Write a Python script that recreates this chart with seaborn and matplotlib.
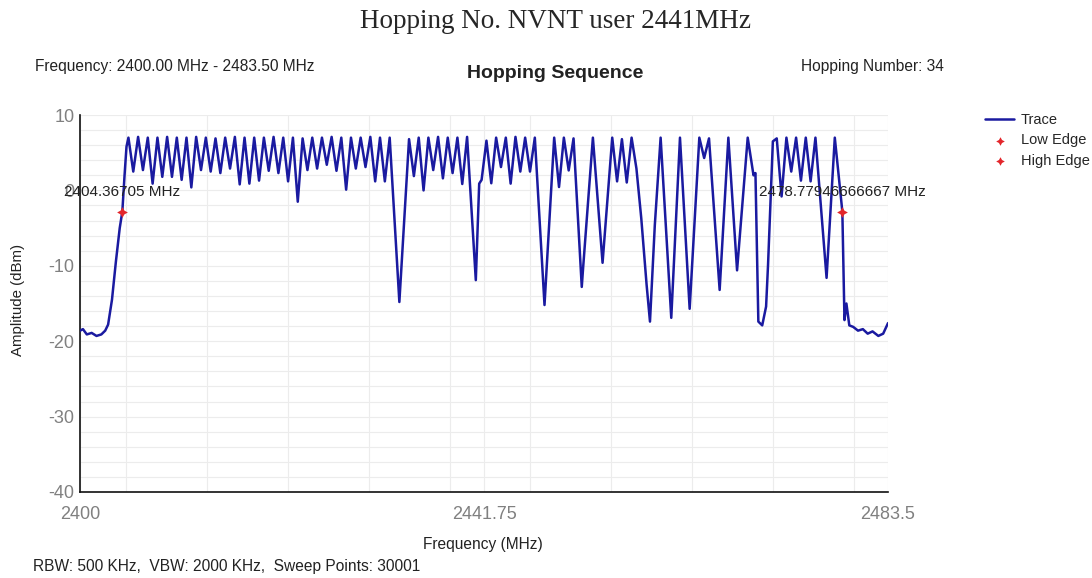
import pandas as pd
import seaborn as sns
import matplotlib.pyplot as plt
from matplotlib.ticker import FixedLocator, MultipleLocator

# noise floor and rising edge on the left side of the band
left_freq = [2400.0, 2400.3, 2400.7, 2401.2, 2401.7, 2402.2, 2402.6, 2402.9,
             2403.3, 2403.7, 2404.1, 2404.37, 2404.6, 2404.8]
left_amp = [-18.6, -18.4, -19.1, -18.9, -19.3, -19.1, -18.6, -17.8,
            -14.5, -9.5, -5.0, -2.8, 2.0, 5.8]

# channel peaks (max hold)
peak_freq = [2405, 2406, 2407, 2408, 2409, 2410, 2411, 2412, 2413, 2414,
             2415, 2416, 2417, 2418, 2419, 2420, 2421, 2422, 2423, 2424,
             2425, 2426, 2427, 2428, 2429, 2430, 2431, 2432,
             2434, 2435, 2436, 2437, 2438, 2439, 2440,
             2442, 2443, 2444, 2445, 2446, 2447,
             2449, 2450, 2451, 2453, 2455, 2456, 2457,
             2460, 2462, 2464, 2465, 2467, 2469,
             2472, 2473, 2474, 2475, 2476, 2478]
peak_amp = [7.0, 7.1, 7.0, 7.0, 7.1, 7.0, 7.0, 7.1, 7.0, 6.9,
            7.0, 7.1, 7.0, 7.0, 7.0, 7.1, 7.0, 7.0, 6.9, 7.0,
            7.0, 7.1, 7.0, 7.0, 7.0, 7.1, 7.0, 7.0,
            6.8, 7.0, 7.0, 7.1, 7.0, 7.0, 7.1,
            6.6, 7.0, 7.0, 7.1, 7.0, 7.0,
            7.0, 7.0, 6.9, 7.0, 7.0, 6.8, 7.0,
            7.0, 7.0, 7.0, 6.9, 7.0, 7.0,
            6.9, 7.0, 7.0, 7.0, 7.0, 7.0]

# notches between channels
notch_freq = [2405.5, 2406.5, 2407.5, 2408.5, 2409.5, 2410.5, 2411.5, 2412.5, 2413.5,
              2414.5, 2415.5, 2416.5, 2417.5, 2418.5, 2419.5, 2420.5, 2421.5, 2422.5,
              2423.5, 2424.5, 2425.5, 2426.5, 2427.5, 2428.5, 2429.5, 2430.5, 2431.5,
              2433.0,
              2434.5, 2435.5, 2436.5, 2437.5, 2438.5, 2439.5,
              2440.9, 2441.25, 2441.5,
              2442.5, 2443.5, 2444.5, 2445.5, 2446.5,
              2448.0, 2449.5, 2450.5, 2451.85, 2452.0, 2454.0, 2455.5, 2456.5,
              2457.5, 2458.0, 2458.55, 2458.9, 2459.4,
              2461.1, 2463.0, 2464.5, 2466.1, 2467.9,
              2469.6, 2469.8, 2470.1, 2470.5, 2470.9, 2471.1, 2471.6,
              2472.5, 2473.5, 2474.5, 2475.5, 2477.15]
notch_amp = [2.5, 2.7, 0.9, 1.8, 1.8, 1.4, 0.4, 2.7, 2.5,
             2.3, 2.9, 0.8, 0.9, 1.3, 2.6, 2.3, 1.2, -1.5,
             2.7, 2.9, 3.4, 2.6, 0.1, 2.9, 3.1, 1.2, 1.2,
             -14.8,
             1.9, 0.0, 2.7, 1.6, 2.3, 0.85,
             -11.9, 0.9, 1.4,
             0.95, 3.1, 0.9, 2.5, 2.5,
             -15.2, 0.45, 2.65, -12.8, -10.1, -9.6, 1.2, 1.05,
             2.9, -3.7, -12.5, -17.4, -4.6,
             -16.9, -15.7, 4.3, -13.2, -10.6,
             2.0, 2.3, -17.4, -17.9, -15.4, -9.9, 6.5,
             -0.8, 2.5, 1.3, 1.2, -11.6]

# falling edge and noise floor on the right
right_freq = [2478.78, 2479.0, 2479.2, 2479.5, 2479.9, 2480.4, 2480.9,
              2481.4, 2481.9, 2482.5, 2483.0, 2483.5]
right_amp = [-2.8, -17.2, -15.0, -17.9, -18.1, -18.6, -18.4,
             -19.0, -18.7, -19.3, -19.0, -17.6]

edge_names = ["Low Edge", "High Edge"]
edge_freq = [2404.36705, 2478.77946666667]
edge_amp = [-2.8, -2.8]
edge_text = ["2404.36705 MHz", "2478.77946666667 MHz"]

trace = pd.concat([
    pd.DataFrame({"freq": left_freq, "amp": left_amp}),
    pd.DataFrame({"freq": peak_freq, "amp": peak_amp}),
    pd.DataFrame({"freq": notch_freq, "amp": notch_amp}),
    pd.DataFrame({"freq": right_freq, "amp": right_amp}),
], ignore_index=True)

sns.set_style("white")
plt.rcParams["font.family"] = ["Liberation Sans", "DejaVu Sans"]
plt.rcParams["axes.unicode_minus"] = False

fig = plt.figure(figsize=(10.92, 5.78), dpi=100)
ax = fig.add_axes([0.0733, 0.1488, 0.7399, 0.6522])

sns.lineplot(data=trace, x="freq", y="amp", ax=ax, color="#1a1aa0", lw=1.8,
             label="Trace", estimator=None, sort=True, zorder=3)
for name, f, a in zip(edge_names, edge_freq, edge_amp):
    sns.scatterplot(x=[f], y=[a], ax=ax, marker=(4, 1, 0), s=60, color="#e3262b",
                    linewidth=0, label=name, zorder=5)
for txt, f, a in zip(edge_text, edge_freq, edge_amp):
    ax.annotate(txt, (f, a), xytext=(0, 14), textcoords="offset points",
                ha="center", va="center", fontsize=11, color="#222222", zorder=6)

ax.set_xlim(2400, 2483.5)
ax.set_ylim(-40, 10)
ax.xaxis.set_major_locator(FixedLocator([2400, 2441.75, 2483.5]))
ax.xaxis.set_minor_locator(MultipleLocator(8.35))
ax.yaxis.set_major_locator(MultipleLocator(10))
ax.yaxis.set_minor_locator(MultipleLocator(2))
ax.set_xticklabels(["2400", "2441.75", "2483.5"])
ax.grid(True, which="both", color="#ececec", lw=0.8)
ax.tick_params(which="both", length=0, labelsize=13, colors="#808080")
ax.tick_params(axis="x", pad=10)
ax.tick_params(axis="y", pad=4)
for side in ["top", "right"]:
    ax.spines[side].set_visible(False)
for side in ["left", "bottom"]:
    ax.spines[side].set_color("#111111")
    ax.spines[side].set_linewidth(1.2)
ax.set_xlabel("")
ax.set_ylabel("")

ax.legend(loc="upper left", bbox_to_anchor=(978 / 1092, 1 - 106 / 578),
          bbox_transform=fig.transFigure, frameon=False, fontsize=10.5,
          handlelength=2.0, labelspacing=0.42, borderpad=0, handletextpad=0.45,
          markerscale=0.8)

fig.text(556 / 1092, 1 - 22 / 578, "Hopping No. NVNT user 2441MHz", ha="center", va="center",
         fontsize=19.5, family="Liberation Serif")
fig.text(555 / 1092, 1 - 73 / 578, "Hopping Sequence", ha="center", va="center",
         fontsize=14, fontweight="bold", color="#222222")
fig.text(35 / 1092, 1 - 66 / 578, "Frequency: 2400.00 MHz - 2483.50 MHz", ha="left",
         va="center", fontsize=11.2, color="#222222")
fig.text(944 / 1092, 1 - 66 / 578, "Hopping Number: 34", ha="right", va="center",
         fontsize=11.2, color="#222222")
fig.text(18 / 1092, 1 - 300 / 578, "Amplitude (dBm)", rotation=90, ha="center",
         va="center", fontsize=10.8, color="#222222")
fig.text(483 / 1092, 1 - 545 / 578, "Frequency (MHz)", ha="center", va="center",
         fontsize=11.2, color="#222222")
fig.text(33 / 1092, 1 - 566 / 578, "RBW: 500 KHz,  VBW: 2000 KHz,  Sweep Points: 30001",
         ha="left", va="center", fontsize=11.2, color="#222222")

fig.savefig("out.png", dpi=100)
